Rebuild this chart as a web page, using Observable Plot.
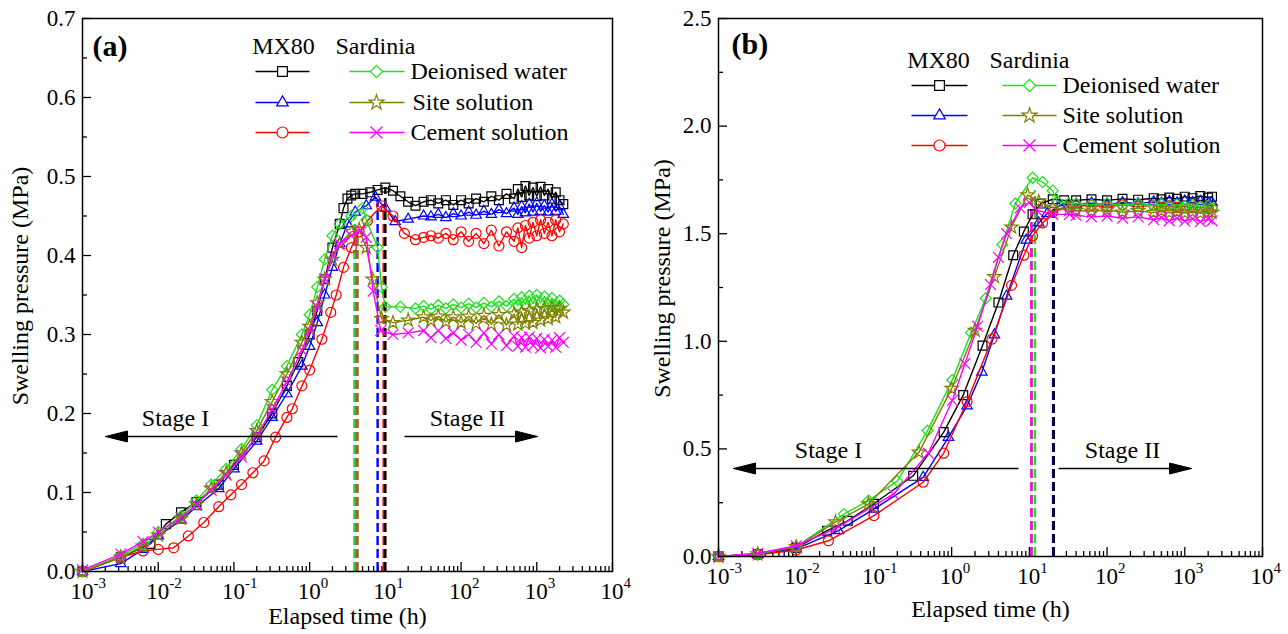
<!DOCTYPE html>
<html><head><meta charset="utf-8">
<script src="https://cdn.jsdelivr.net/npm/d3@7"></script>
<script src="https://cdn.jsdelivr.net/npm/@observablehq/plot@0.6"></script>
<style>
body{margin:0;background:#fff;}
#wrap{display:flex;width:1288px;height:634px;overflow:hidden;}
#wrap svg{display:block;}
#wrap svg, #wrap svg text{font-family:"Liberation Serif","Times New Roman",serif !important;}
</style></head><body><div id="wrap"></div>
<script>
// ---------------- DATA (elapsed time in hours, swelling pressure in MPa) ----------------
// Panel (a)
const aLateT = [40,50,63,79,100,126,158,200,251,316,398,501,562,631,708,794,891,1000,1122,1259,1413,1585,1778,1995,2240];
const aBlackT = [0.001,0.0032,0.0079,0.0126,0.02,0.032,0.063,0.1,0.2,0.32,0.5,0.71,1,1.26,1.58,2,2.5,2.8,3.16,3.55,4,5,6.3,7.9,10,12.6,15.8,20,25,32];
const aBlackV = [0,0.018,0.035,0.06,0.075,0.088,0.11,0.135,0.17,0.2,0.235,0.265,0.3,0.33,0.37,0.41,0.44,0.46,0.472,0.476,0.478,0.478,0.48,0.483,0.486,0.482,0.475,0.468,0.463,0.468];
const aBlackLate = [0.47,0.466,0.47,0.464,0.47,0.466,0.472,0.468,0.475,0.47,0.478,0.472,0.484,0.474,0.488,0.476,0.486,0.475,0.487,0.476,0.484,0.472,0.48,0.47,0.465];
const aBlueT = [0.001,0.0032,0.0063,0.01,0.02,0.032,0.063,0.1,0.2,0.32,0.5,0.79,1,1.26,1.58,2,2.5,3.16,4,5.6,7.4,10,13.5,20,32];
const aBlueV = [0,0.01,0.028,0.045,0.065,0.082,0.105,0.13,0.165,0.195,0.225,0.26,0.285,0.315,0.35,0.385,0.415,0.44,0.455,0.463,0.474,0.46,0.443,0.446,0.45];
const aBlueLate = [0.449,0.452,0.448,0.453,0.45,0.455,0.451,0.456,0.452,0.458,0.453,0.46,0.452,0.462,0.454,0.465,0.455,0.466,0.456,0.463,0.455,0.465,0.456,0.462,0.452];
const aRedT = [0.001,0.0032,0.0063,0.01,0.016,0.025,0.04,0.063,0.091,0.126,0.178,0.25,0.355,0.5,0.59,0.79,1,1.45,1.9,2.24,2.8,3.55,4.5,5.8,8.9,12.6,17.8,25,32];
const aRedV = [0,0.018,0.026,0.028,0.03,0.045,0.062,0.082,0.097,0.11,0.125,0.14,0.17,0.195,0.206,0.235,0.255,0.294,0.328,0.35,0.385,0.41,0.43,0.444,0.463,0.45,0.428,0.42,0.423];
const aRedLate = [0.425,0.422,0.428,0.42,0.43,0.418,0.428,0.415,0.432,0.412,0.43,0.418,0.435,0.41,0.438,0.422,0.442,0.425,0.445,0.428,0.442,0.425,0.445,0.43,0.44];
const aGreenT = [0.001,0.0032,0.0063,0.01,0.02,0.032,0.05,0.079,0.126,0.2,0.32,0.5,0.79,1,1.26,1.58,2,2.5,3.55,5,5.6,7.9,8.9,10,15.8,25,32];
const aGreenV = [0,0.02,0.035,0.05,0.07,0.09,0.11,0.13,0.155,0.185,0.23,0.26,0.3,0.325,0.36,0.395,0.425,0.44,0.45,0.46,0.445,0.41,0.36,0.335,0.335,0.333,0.336];
const aGreenLate = [0.332,0.337,0.333,0.338,0.334,0.339,0.334,0.34,0.335,0.342,0.336,0.345,0.337,0.347,0.338,0.349,0.339,0.35,0.34,0.348,0.338,0.346,0.337,0.343,0.338];
const aOliveT = [0.001,0.0032,0.0063,0.01,0.02,0.032,0.05,0.079,0.126,0.2,0.32,0.5,0.79,1,1.26,1.58,2,2.5,3.55,4.5,5.6,6.8,8.9,12.6,20,32];
const aOliveV = [0,0.018,0.032,0.046,0.067,0.085,0.105,0.125,0.15,0.178,0.215,0.25,0.29,0.31,0.34,0.37,0.395,0.415,0.43,0.433,0.41,0.37,0.32,0.315,0.318,0.322];
const aOliveLate = [0.318,0.323,0.316,0.322,0.315,0.323,0.314,0.324,0.313,0.325,0.312,0.326,0.313,0.328,0.314,0.33,0.315,0.332,0.318,0.333,0.32,0.334,0.322,0.333,0.328];
const aMagentaT = [0.001,0.0032,0.0063,0.01,0.02,0.032,0.05,0.079,0.126,0.2,0.32,0.5,0.79,1,1.26,1.58,2,2.5,3.55,4.7,5.6,6.9,8.7,12.6,20,32];
const aMagentaV = [0.002,0.022,0.038,0.05,0.068,0.085,0.103,0.122,0.145,0.172,0.205,0.24,0.28,0.305,0.335,0.37,0.4,0.415,0.425,0.432,0.423,0.355,0.305,0.3,0.302,0.305];
const aMagentaLate = [0.296,0.305,0.295,0.302,0.293,0.3,0.29,0.302,0.288,0.3,0.286,0.298,0.285,0.296,0.284,0.297,0.286,0.295,0.283,0.294,0.285,0.293,0.284,0.296,0.29];
// end-of-stage-I markers (dashed lines): series, time (h), top value
const aDashKey = ["magenta","green","olive","blue","red","black"];
const aDashT   = [4.1,3.9,4.3,7.9,9.5,10];
const aDashTop = [0.42,0.45,0.43,0.47,0.46,0.486];

// Panel (b)
const bLateT = [40,63,100,158,251,398,501,631,794,1000,1259,1585,1995,2240];
const bBlackT = [0.001,0.0032,0.01,0.025,0.046,0.1,0.32,0.79,1.41,2.5,4,6.2,8.5,11,14,20,28];
const bBlackV = [0,0.012,0.04,0.12,0.166,0.245,0.375,0.578,0.75,0.98,1.18,1.4,1.51,1.59,1.64,1.66,1.655];
const bBlackLate = [1.655,1.66,1.655,1.662,1.658,1.665,1.66,1.668,1.662,1.672,1.665,1.675,1.668,1.672];
const bBlueT = [0.001,0.0032,0.01,0.035,0.1,0.43,0.91,1.58,2.45,3.55,5.1,9.1,13.2,17,25,32];
const bBlueV = [0,0.01,0.035,0.12,0.22,0.368,0.554,0.7,0.857,1.03,1.21,1.47,1.55,1.594,1.63,1.637];
const bBlueLate = [1.638,1.642,1.636,1.645,1.64,1.648,1.642,1.65,1.643,1.652,1.645,1.65,1.642,1.645];
const bRedT = [0.001,0.0032,0.01,0.026,0.1,0.43,0.79,1.58,3.3,5.9,8.5,11,14.8,20,32];
const bRedV = [0,0.008,0.03,0.073,0.19,0.345,0.48,0.72,1.01,1.26,1.4,1.49,1.55,1.6,1.625];
const bRedLate = [1.628,1.632,1.625,1.634,1.626,1.632,1.624,1.63,1.622,1.628,1.62,1.626,1.618,1.62];
const bGreenT = [0.001,0.0032,0.01,0.041,0.085,0.2,0.49,1.02,1.78,2.75,4.5,6.6,11,14.8,20,23,32];
const bGreenV = [0,0.012,0.045,0.197,0.26,0.35,0.585,0.82,1.04,1.2,1.45,1.64,1.76,1.74,1.7,1.65,1.64];
const bGreenLate = [1.64,1.635,1.642,1.632,1.64,1.63,1.638,1.628,1.636,1.628,1.634,1.625,1.63,1.62];
const bOliveT = [0.001,0.0032,0.01,0.032,0.085,0.38,1,2,3.55,5.9,9.5,13.2,20,32];
const bOliveV = [0,0.012,0.045,0.16,0.244,0.484,0.78,1.05,1.3,1.53,1.68,1.65,1.62,1.61];
const bOliveLate = [1.608,1.604,1.61,1.6,1.606,1.598,1.605,1.597,1.603,1.596,1.602,1.595,1.6,1.598];
const bMagentaT = [0.001,0.0032,0.01,0.032,0.178,0.5,1.02,1.48,2.16,3.16,4,5.1,7.6,10,12.3,20,33];
const bMagentaV = [0,0.015,0.05,0.13,0.29,0.48,0.725,0.896,1.07,1.264,1.39,1.5,1.62,1.645,1.61,1.59,1.59];
const bMagentaLate = [1.585,1.578,1.582,1.572,1.578,1.565,1.575,1.56,1.572,1.558,1.57,1.556,1.568,1.56];
const bDashKey = ["olive","magenta","green","red","blue","black"];
const bDashT   = [10.7,10.6,11.8,20.4,20.2,20.6];
const bDashTop = [1.66,1.64,1.7,1.6,1.6,1.62];

// Axis ticks / labels
const xDecades = [1e-3,1e-2,1e-1,1,10,100,1e3,1e4];
const aYTicks = [0,0.1,0.2,0.3,0.4,0.5,0.6,0.7];
const aYMinor = [0.05,0.15,0.25,0.35,0.45,0.55,0.65];
const bYTicks = [0,0.5,1.0,1.5,2.0,2.5];
const bYMinor = [0.25,0.75,1.25,1.75,2.25];

// Legend text
const mediumLabels = ["Deionised water","Site solution","Cement solution"];
const bentoniteLabels = ["MX80","Sardinia"];
const stageLabels = ["Stage I","Stage II"];

// ---------------- STYLE ----------------
const FONT = '"Liberation Serif","Times New Roman",serif';
const COLOR = {black:"#000000", blue:"#0000ff", red:"#ff0000", green:"#1ee01e", olive:"#808000", magenta:"#ff00ff"};
const SYMBOL = {black:"square", blue:"triangle2", red:"circle", green:"diamond2", olive:"star", magenta:"times"};
const RADIUS = {black:5, blue:5, red:5, green:5, olive:4.2, magenta:5};
const ORDER = ["black","blue","red","green","olive","magenta"];

const xMinor = [];
for (const d of xDecades.slice(0, -1)) for (let k = 2; k <= 9; k++) xMinor.push(d * k);

function buildSeries(T, V, lateT, late) {
  return T.map((t, i) => ({t, v: V[i]})).concat(lateT.map((t, i) => ({t, v: late[i]})));
}

function panel(cfg) {
  const {W, H, mL, mR, mT, mB, yMax, yTicks, yMinor, series, dash, lg, st, label, labelDx, labelDy, xTitleDy, yTitleDx} = cfg;
  const fw = W - mL - mR, fh = H - mT - mB;
  const xS = Plot.scale({x: {type: "log", domain: [1e-3, 1e4], range: [mL, W - mR]}});
  const yS = Plot.scale({y: {type: "linear", domain: [0, yMax], range: [H - mB, mT]}});
  const ix = p => xS.invert(p), iy = p => yS.invert(p);
  const marks = [];
  const tk = {stroke: "black", strokeWidth: 1.3};
  const tx = {fill: "black", fontFamily: FONT, lineAnchor: "middle"};
  // ticks (inward)
  marks.push(Plot.tickX(xDecades, {x: d => d, insetTop: fh - 9, ...tk}));
  marks.push(Plot.tickX(xMinor, {x: d => d, insetTop: fh - 5, ...tk}));
  marks.push(Plot.tickY(yTicks, {y: d => d, insetRight: fw - 9, ...tk}));
  marks.push(Plot.tickY(yMinor, {y: d => d, insetRight: fw - 5, ...tk}));
  // tick labels
  marks.push(Plot.text(xDecades, {x: d => d, text: () => "10", frameAnchor: "bottom", textAnchor: "end", dx: 11, dy: 20, fontSize: 23, ...tx}));
  marks.push(Plot.text(xDecades, {x: d => d, text: d => String(Math.round(Math.log10(d))), frameAnchor: "bottom", textAnchor: "start", dx: 11, dy: 12, fontSize: 15, ...tx}));
  marks.push(Plot.text(yTicks, {y: d => d, text: d => d.toFixed(1), frameAnchor: "left", textAnchor: "end", dx: -7, fontSize: 23, ...tx}));
  // axis titles
  marks.push(Plot.text(["Elapsed time (h)"], {text: d => d, frameAnchor: "bottom", textAnchor: "middle", dy: xTitleDy, fontSize: 24, ...tx}));
  marks.push(Plot.text(["Swelling pressure (MPa)"], {text: d => d, frameAnchor: "left", textAnchor: "middle", rotate: -90, dx: yTitleDx, dy: -9, fontSize: 24, ...tx}));
  // dashed lines
  dash.keys.forEach((k, i) => {
    marks.push(Plot.ruleX([{t: dash.t[i], top: dash.top[i]}], {x: "t", y1: 0, y2: "top", stroke: COLOR[k], strokeWidth: 2.4, strokeDasharray: "9,4"}));
  });
  // series
  for (const k of ORDER) {
    const data = series[k];
    marks.push(Plot.line(data, {x: "t", y: "v", stroke: COLOR[k], strokeWidth: 1.4}));
    marks.push(Plot.dot(data, {x: "t", y: "v", symbol: SYMBOL[k], stroke: COLOR[k], fill: "none", r: RADIUS[k], strokeWidth: 1.2}));
  }
  // stage arrows
  const ay = iy(st.ay);
  marks.push(Plot.link([{x1: ix(st.l1), x2: ix(st.l2 + 20)}, {x1: ix(st.r1), x2: ix(st.r2 - 20)}], {x1: "x1", x2: "x2", y1: ay, y2: ay, stroke: "black", strokeWidth: 1.3}));
  const headL = [{x: ix(st.l2), y: ay}, {x: ix(st.l2 + 22), y: iy(st.ay - 5.5)}, {x: ix(st.l2 + 22), y: iy(st.ay + 5.5)}, {x: ix(st.l2), y: ay}];
  const headR = [{x: ix(st.r2), y: ay}, {x: ix(st.r2 - 22), y: iy(st.ay - 5.5)}, {x: ix(st.r2 - 22), y: iy(st.ay + 5.5)}, {x: ix(st.r2), y: ay}];
  marks.push(Plot.line(headL, {x: "x", y: "y", fill: "black", stroke: "black", strokeWidth: 1}));
  marks.push(Plot.line(headR, {x: "x", y: "y", fill: "black", stroke: "black", strokeWidth: 1}));
  marks.push(Plot.text([{x: ix(st.t1), t: stageLabels[0]}, {x: ix(st.t2), t: stageLabels[1]}], {x: "x", y: iy(st.ty), text: "t", fontSize: 24, ...tx}));
  // legend
  marks.push(Plot.text([{x: ix(lg.h1), t: bentoniteLabels[0]}, {x: ix(lg.h2), t: bentoniteLabels[1]}], {x: "x", y: iy(lg.hy), text: "t", fontSize: 24, ...tx}));
  const pairs = [["black","green"],["blue","olive"],["red","magenta"]];
  pairs.forEach(([kl, kr], i) => {
    const ry = iy(lg.rows[i]);
    marks.push(Plot.link([{x1: ix(lg.s1[0]), x2: ix(lg.s1[1])}], {x1: "x1", x2: "x2", y1: ry, y2: ry, stroke: COLOR[kl], strokeWidth: 1.5}));
    marks.push(Plot.link([{x1: ix(lg.s2[0]), x2: ix(lg.s2[1])}], {x1: "x1", x2: "x2", y1: ry, y2: ry, stroke: COLOR[kr], strokeWidth: 1.5}));
    marks.push(Plot.dot([{x: ix(lg.m1), y: ry}], {x: "x", y: "y", symbol: SYMBOL[kl], stroke: COLOR[kl], fill: "white", r: RADIUS[kl] + 0.5, strokeWidth: 1.2}));
    marks.push(Plot.dot([{x: ix(lg.m2), y: ry}], {x: "x", y: "y", symbol: SYMBOL[kr], stroke: COLOR[kr], fill: "white", r: RADIUS[kr] + 0.5, strokeWidth: 1.2}));
    marks.push(Plot.text([{x: ix(lg.lx[i]), t: mediumLabels[i]}], {x: "x", y: ry, text: "t", textAnchor: "start", fontSize: 24, ...tx}));
  });
  // panel label
  marks.push(Plot.text([label], {text: d => d, frameAnchor: "top-left", dx: labelDx, dy: labelDy, textAnchor: "start", fontWeight: "bold", fontSize: 30, ...tx}));
  marks.push(Plot.frame({stroke: "black", strokeWidth: 1.5}));
  return Plot.plot({
    width: W, height: H, marginLeft: mL, marginRight: mR, marginTop: mT, marginBottom: mB,
    x: {type: "log", domain: [1e-3, 1e4], axis: null},
    y: {type: "linear", domain: [0, yMax], axis: null},
    style: {fontFamily: FONT, background: "white", overflow: "visible"},
    marks
  });
}

const seriesA = {
  black: buildSeries(aBlackT, aBlackV, aLateT, aBlackLate),
  blue: buildSeries(aBlueT, aBlueV, aLateT, aBlueLate),
  red: buildSeries(aRedT, aRedV, aLateT, aRedLate),
  green: buildSeries(aGreenT, aGreenV, aLateT, aGreenLate),
  olive: buildSeries(aOliveT, aOliveV, aLateT, aOliveLate),
  magenta: buildSeries(aMagentaT, aMagentaV, aLateT, aMagentaLate)
};
const seriesB = {
  black: buildSeries(bBlackT, bBlackV, bLateT, bBlackLate),
  blue: buildSeries(bBlueT, bBlueV, bLateT, bBlueLate),
  red: buildSeries(bRedT, bRedV, bLateT, bRedLate),
  green: buildSeries(bGreenT, bGreenV, bLateT, bGreenLate),
  olive: buildSeries(bOliveT, bOliveV, bLateT, bOliveLate),
  magenta: buildSeries(bMagentaT, bMagentaV, bLateT, bMagentaLate)
};

const wrap = document.getElementById("wrap");
wrap.appendChild(panel({
  W: 640, H: 634, mL: 82, mR: 28, mT: 18, mB: 63, yMax: 0.7, yTicks: aYTicks, yMinor: aYMinor,
  series: seriesA, dash: {keys: aDashKey, t: aDashT, top: aDashTop},
  lg: {hy: 46, h1: 283, h2: 375, rows: [71, 102, 132], s1: [255, 309], s2: [349, 404], m1: 282, m2: 376, lx: [410, 412, 410]},
  st: {ay: 436, l1: 337, l2: 105, r1: 404, r2: 537, t1: 175, t2: 467, ty: 418},
  label: "(a)", labelDx: 10, labelDy: 28, xTitleDy: 45, yTitleDx: -62
}));
wrap.appendChild(panel({
  W: 648, H: 634, mL: 78, mR: 26, mT: 18, mB: 78, yMax: 2.5, yTicks: bYTicks, yMinor: bYMinor,
  series: seriesB, dash: {keys: bDashKey, t: bDashT, top: bDashTop},
  lg: {hy: 60, h1: 298, h2: 389, rows: [85, 115, 145], s1: [271, 327], s2: [362, 416], m1: 299, m2: 389, lx: [422, 422, 422]},
  st: {ay: 468, l1: 378, l2: 93, r1: 418, r2: 551, t1: 188, t2: 482, ty: 450},
  label: "(b)", labelDx: 13, labelDy: 26, xTitleDy: 53, yTitleDx: -56
}));
</script>
</body></html>
